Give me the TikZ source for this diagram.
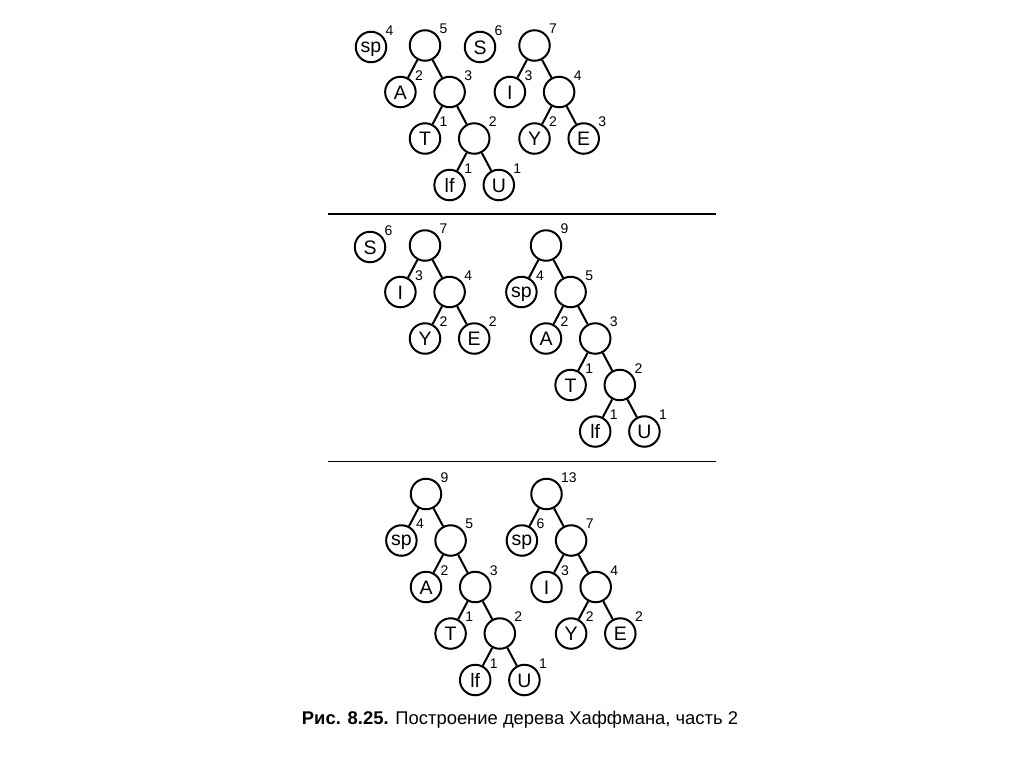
\documentclass[tikz,border=0pt]{standalone}
\usepackage{fontspec}
\setmainfont{Liberation Sans}
\begin{document}
\begin{tikzpicture}[x=1pt,y=-1pt,
  nd/.style={circle,draw,line width=2pt,minimum size=30.5pt,inner sep=0pt,font=\fontsize{19.5}{19.5}\selectfont,text height=14pt,text depth=0pt},
  spn/.style={nd,text height=13pt,text depth=2.5pt},
  wl/.style={font=\fontsize{14}{14}\selectfont,inner sep=0pt,label distance=0pt,xshift=3pt},
  ed/.style={line width=2pt},
  sep/.style={line width=1.6pt}]
\useasboundingbox (0,0) rectangle (1011,761);
% ---------- section 1
\node[spn,label={[wl]45:4}] (a_sp) at (371,47) {sp};
\node[nd,label={[wl]45:5}] (a_r5) at (425,45.5) {};
\node[nd,label={[wl]45:6}] (a_S) at (480,47) {S};
\node[nd,label={[wl]45:7}] (a_r7) at (534.5,45.5) {};
\node[nd,label={[wl]45:2}] (a_A) at (400.4,92) {A};
\node[nd,label={[wl]45:3}] (a_n3) at (449.6,92) {};
\node[nd,label={[wl]45:1}] (a_T) at (425,138.5) {T};
\node[nd,label={[wl]45:2}] (a_n2) at (474.2,138.5) {};
\node[nd,label={[wl]45:1}] (a_lf) at (449.6,185) {lf};
\node[nd,label={[wl]45:1}] (a_U) at (498.8,185) {U};
\node[nd,label={[wl]45:3}] (a_I) at (509.9,92) {I};
\node[nd,label={[wl]45:4}] (a_n4) at (559.1,92) {};
\node[nd,label={[wl]45:2}] (a_Y) at (534.5,138.5) {Y};
\node[nd,label={[wl]45:3}] (a_E) at (583.7,138.5) {E};
\draw[ed] (a_r5)--(a_A) (a_r5)--(a_n3) (a_n3)--(a_T) (a_n3)--(a_n2) (a_n2)--(a_lf) (a_n2)--(a_U)
          (a_r7)--(a_I) (a_r7)--(a_n4) (a_n4)--(a_Y) (a_n4)--(a_E);
% separator 1
\coordinate (s1l) at (328,214);
\coordinate (s1r) at (716,214);
\draw[sep] (s1l)--(s1r);
% ---------- section 2
\node[nd,label={[wl]45:6}] (b_S) at (370,247) {S};
\node[nd,label={[wl]45:7}] (b_r7) at (425,245.5) {};
\node[nd,label={[wl]45:3}] (b_I) at (400.4,292) {I};
\node[nd,label={[wl]45:4}] (b_n4) at (449.6,292) {};
\node[nd,label={[wl]45:2}] (b_Y) at (425,338.5) {Y};
\node[nd,label={[wl]45:2}] (b_E) at (474.2,338.5) {E};
\node[nd,label={[wl]45:9}] (b_r9) at (546,245.5) {};
\node[spn,label={[wl]45:4}] (b_sp) at (521.4,292) {sp};
\node[nd,label={[wl]45:5}] (b_n5) at (570.6,292) {};
\node[nd,label={[wl]45:2}] (b_A) at (546,338.5) {A};
\node[nd,label={[wl]45:3}] (b_n3) at (595.2,338.5) {};
\node[nd,label={[wl]45:1}] (b_T) at (570.6,385) {T};
\node[nd,label={[wl]45:2}] (b_n2) at (619.8,385) {};
\node[nd,label={[wl]45:1}] (b_lf) at (595.2,431.5) {lf};
\node[nd,label={[wl]45:1}] (b_U) at (644.4,431.5) {U};
\draw[ed] (b_r7)--(b_I) (b_r7)--(b_n4) (b_n4)--(b_Y) (b_n4)--(b_E)
          (b_r9)--(b_sp) (b_r9)--(b_n5) (b_n5)--(b_A) (b_n5)--(b_n3) (b_n3)--(b_T) (b_n3)--(b_n2)
          (b_n2)--(b_lf) (b_n2)--(b_U);
% separator 2
\coordinate (s2l) at (328,461.5);
\coordinate (s2r) at (716,461.5);
\draw[sep] (s2l)--(s2r);
% ---------- section 3
\node[nd,label={[wl]45:9}] (c_r9) at (426,494) {};
\node[spn,label={[wl]45:4}] (c_sp) at (401.4,540.5) {sp};
\node[nd,label={[wl]45:5}] (c_n5) at (450.6,540.5) {};
\node[nd,label={[wl]45:2}] (c_A) at (426,587) {A};
\node[nd,label={[wl]45:3}] (c_n3) at (475.2,587) {};
\node[nd,label={[wl]45:1}] (c_T) at (450.6,633.5) {T};
\node[nd,label={[wl]45:2}] (c_n2) at (499.8,633.5) {};
\node[nd,label={[wl]45:1}] (c_lf) at (475.2,680) {lf};
\node[nd,label={[wl]45:1}] (c_U) at (524.4,680) {U};
\node[nd,label={[wl]45:13}] (c_r13) at (546.5,494) {};
\node[spn,label={[wl]45:6}] (c_sp2) at (521.9,540.5) {sp};
\node[nd,label={[wl]45:7}] (c_n7) at (571.1,540.5) {};
\node[nd,label={[wl]45:3}] (c_I) at (546.5,587) {I};
\node[nd,label={[wl]45:4}] (c_n4) at (595.7,587) {};
\node[nd,label={[wl]45:2}] (c_Y) at (571.1,633.5) {Y};
\node[nd,label={[wl]45:2}] (c_E) at (620.3,633.5) {E};
\draw[ed] (c_r9)--(c_sp) (c_r9)--(c_n5) (c_n5)--(c_A) (c_n5)--(c_n3) (c_n3)--(c_T) (c_n3)--(c_n2)
          (c_n2)--(c_lf) (c_n2)--(c_U)
          (c_r13)--(c_sp2) (c_r13)--(c_n7) (c_n7)--(c_I) (c_n7)--(c_n4) (c_n4)--(c_Y) (c_n4)--(c_E);
% caption
\node[font=\fontsize{18.4}{18.4}\selectfont,inner sep=0pt] (cap) at (520,720) {\textbf{Рис. 8.25.} Построение дерева Хаффмана, часть 2};
\end{tikzpicture}
\end{document}
